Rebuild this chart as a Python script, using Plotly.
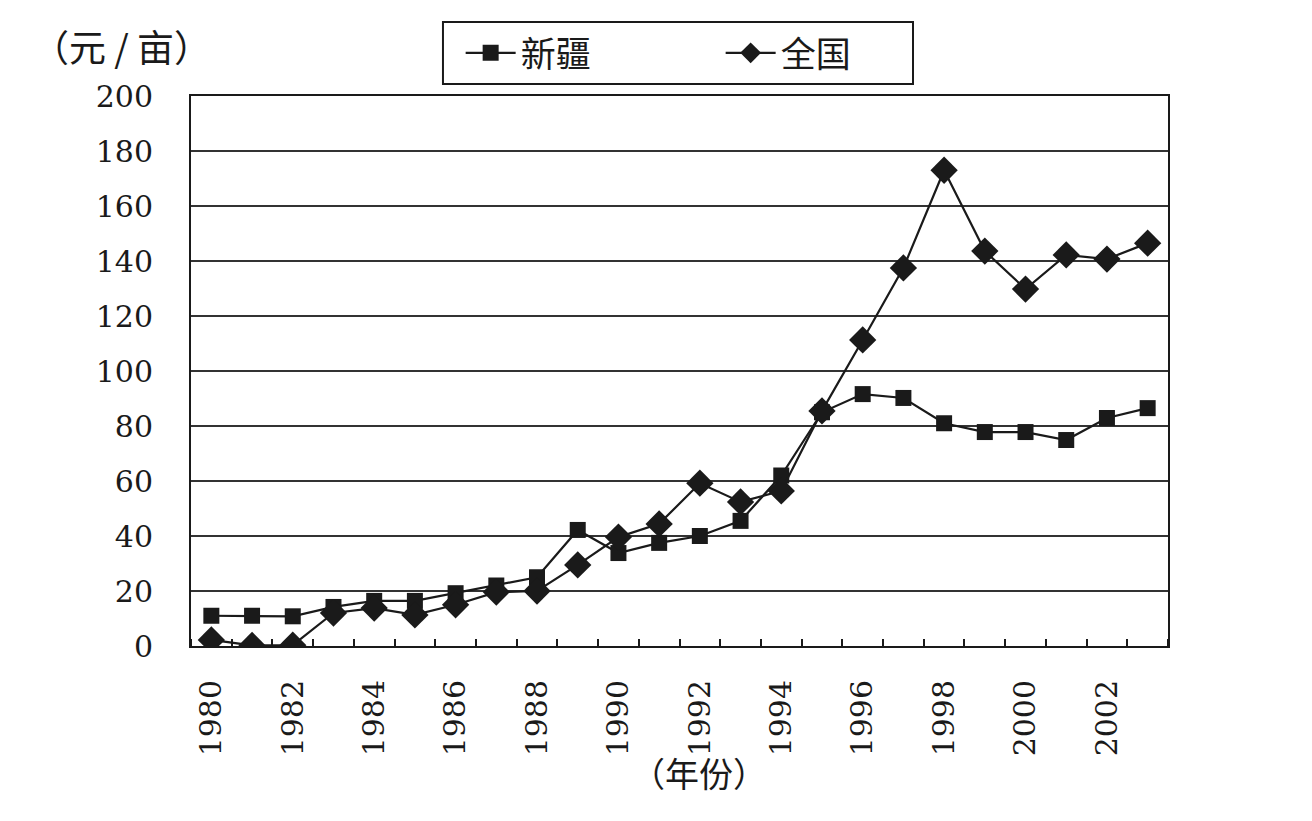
import plotly.graph_objects as go

years = list(range(1980, 2004))
xinjiang = [11, 11, 10.8, 14.2, 16.4, 16.4, 19.2, 22, 25, 42.2, 33.8, 37.5, 40, 45.5, 62,
            85, 91.6, 90.2, 81, 77.8, 77.8, 74.9, 82.9, 86.5]
national = [2.2, 0.2, 0.3, 12, 13.8, 11.3, 15, 19.6, 20, 29.5, 39.6, 44.4, 59.2, 52.4, 56.4,
            85.5, 111.3, 137.5, 173, 143.6, 129.8, 142.2, 140.7, 146.5]
label_years = list(range(1980, 2004, 2))
series_names = ["新疆", "全国"]

ink = "#1a1a1a"
serif = "DejaVu Serif"
cjk = "Noto Sans CJK SC"

fig = go.Figure()
fig.add_trace(go.Scatter(x=years, y=xinjiang, name=series_names[0], mode="lines+markers",
                         line=dict(color=ink, width=2.2),
                         marker=dict(symbol="square", size=16, color=ink)))
fig.add_trace(go.Scatter(x=years, y=national, name=series_names[1], mode="lines+markers",
                         line=dict(color=ink, width=2.2),
                         marker=dict(symbol="diamond", size=21, color=ink)))

fig.update_layout(
    width=1312, height=821,
    margin=dict(l=191, r=144, t=96, b=175),
    paper_bgcolor="white", plot_bgcolor="white",
    showlegend=True,
    legend=dict(orientation="h", x=0.276, y=1.078, xanchor="left", yanchor="middle",
                borderwidth=0, bgcolor="rgba(0,0,0,0)",
                font=dict(family=cjk, size=35, color=ink),
                itemwidth=50, entrywidth=195, tracegroupgap=0),
    shapes=[dict(type="rect", xref="paper", yref="paper", x0=0.2579, x1=0.739,
                 y0=1.0218, y1=1.1345, line=dict(color=ink, width=2),
                 fillcolor="rgba(0,0,0,0)", layer="below")],
    xaxis=dict(range=[1979.5, 2003.5], tickmode="array", tickvals=label_years,
               ticktext=[str(y) for y in label_years], tickangle=-90, ticks="",
               tickfont=dict(family=serif, size=30, color=ink),
               ticklabelstandoff=20,
               showgrid=False, zeroline=False, showline=True, linecolor=ink, linewidth=2,
               mirror=True,
               minor=dict(tickmode="linear", tick0=1980.5, dtick=1, ticks="inside",
                          ticklen=7, tickcolor=ink, tickwidth=2, showgrid=False)),
    yaxis=dict(range=[0, 200], dtick=20, tickfont=dict(family=serif, size=30, color=ink),
               ticks="", ticklabelstandoff=30,
               showgrid=True, gridcolor="#333333", gridwidth=2, zeroline=False,
               showline=True, linecolor=ink, linewidth=2, mirror=True),
    annotations=[
        dict(text="（元 / 亩）", xref="paper", yref="paper", x=-0.165, y=1.09,
             xanchor="left", yanchor="middle", showarrow=False,
             font=dict(family=cjk, size=37, color=ink)),
        dict(text="（年份）", xref="paper", yref="paper", x=0.52, y=-0.23,
             xanchor="center", yanchor="middle", showarrow=False,
             font=dict(family=cjk, size=34, color=ink)),
    ],
)

fig.write_html("out.html")
